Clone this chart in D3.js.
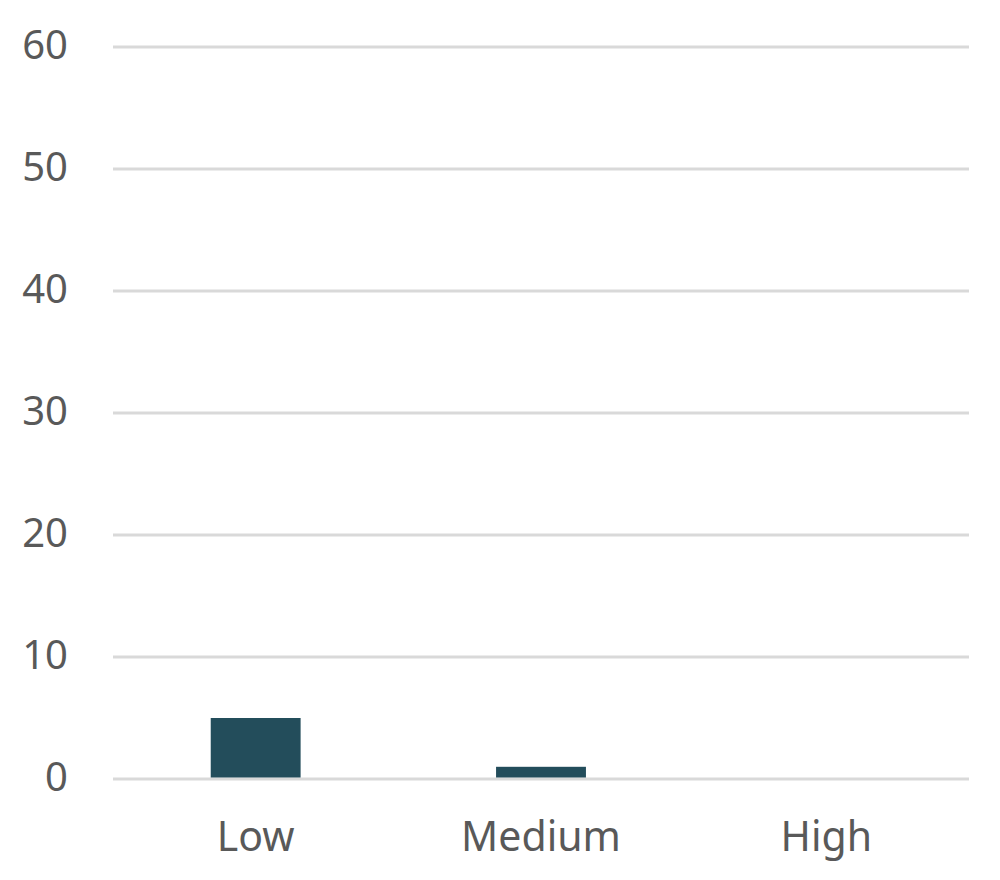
<!DOCTYPE html>
<html>
<head>
<meta charset="utf-8">
<script src="https://cdn.jsdelivr.net/npm/d3@7"></script>
<style>
  body { margin: 0; background: #fff; }
  text { font-family: "Noto Sans", Lato, sans-serif; fill: #595959; }
</style>
</head>
<body>
<div id="chart"></div>
<script>
var width = 1000;
var height = 880;

// data
var categories = ["Low", "Medium", "High"];
var values = [5, 1, 0];
var yTicks = [0, 10, 20, 30, 40, 50, 60];

var margin = {top: 47, right: 31, bottom: 101, left: 113};

var svg = d3.select("#chart").append("svg")
  .attr("width", width)
  .attr("height", height);

var x = d3.scaleBand()
  .domain(categories)
  .range([margin.left, width - margin.right])
  .paddingInner(0.685)
  .paddingOuter(0.3425);

var y = d3.scaleLinear()
  .domain([0, 60])
  .range([height - margin.bottom, margin.top]);

// gridlines
svg.append("g")
  .selectAll("line")
  .data(yTicks)
  .enter()
  .append("line")
  .attr("x1", margin.left)
  .attr("x2", width - margin.right)
  .attr("y1", function(d){ return y(d); })
  .attr("y2", function(d){ return y(d); })
  .style("stroke", "#d9d9d9")
  .style("stroke-width", 3);

// y labels
svg.append("g")
  .selectAll("text")
  .data(yTicks)
  .enter()
  .append("text")
  .attr("x", 68)
  .attr("y", function(d){ return y(d); })
  .attr("dy", "0.3em")
  .attr("text-anchor", "end")
  .style("font-size", "40px")
  .text(function(d){ return d; });

// bars
svg.append("g")
  .selectAll("rect")
  .data(values)
  .enter()
  .append("rect")
  .attr("x", function(d, i){ return x(categories[i]); })
  .attr("width", x.bandwidth())
  .attr("y", function(d){ return y(d); })
  .attr("height", function(d){ return Math.max(0, y(0) - y(d) - 1.5); })
  .style("fill", "#234d5b");

// x labels
svg.append("g")
  .selectAll("text")
  .data(categories)
  .enter()
  .append("text")
  .attr("x", function(d){ return x(d) + x.bandwidth() / 2; })
  .attr("y", 851)
  .attr("text-anchor", "middle")
  .style("font-size", "41px")
  .text(function(d){ return d; });
</script>
</body>
</html>
